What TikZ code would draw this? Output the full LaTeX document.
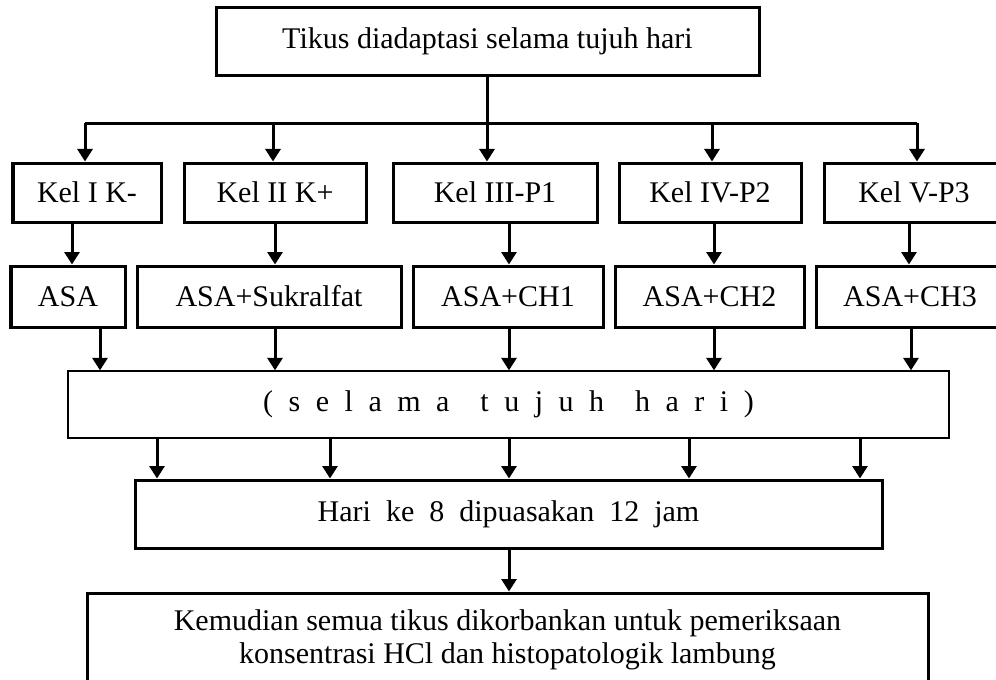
\documentclass[tikz,border=0pt]{standalone}
\usepackage{fontspec}
\setmainfont{Liberation Serif}
\usetikzlibrary{arrows.meta}
\newcommand{\lgap}{\hspace{6.2pt}}
\newcommand{\wgap}{\hspace{12.4pt}}

\begin{document}
\begin{tikzpicture}
[
  x=0.4pt, y=-0.4pt,
  every node/.style={font=\fontsize{12}{13.2}\selectfont},
  box/.style={rectangle,draw,line width=1.2pt,inner sep=0pt},
  thinbox/.style={rectangle,draw,line width=0.5pt,inner sep=0pt},
  boxsize/.style 2 args={minimum width=#1*0.4pt,minimum height=#2*0.4pt},
  link/.style={line width=1.2pt},
  arr/.style={link,-{Triangle[length=5pt,width=6pt]}},
]
\useasboundingbox (0,0) rectangle (996,680);

\node[box,boxsize={543}{68}] (top) at (487.5,41) {Tikus diadaptasi selama tujuh hari};

% kelompok
\node[box,boxsize={148}{59}] (k1) at (87,192.5) {Kel I K-};
\node[box,boxsize={182}{59}] (k2) at (275,192.5) {Kel II K+};
\node[box,boxsize={204}{59}] (k3) at (495,192.5) {Kel III-P1};
\node[box,boxsize={182}{59}] (k4) at (710,192.5) {Kel IV-P2};
\node[box,boxsize={180}{59}] (k5) at (914,192.5) {Kel V-P3};

% perlakuan
\node[box,boxsize={114}{61}] (a1) at (68,296.5) {ASA};
\node[box,boxsize={264}{61}] (a2) at (269,296.5) {ASA+Sukralfat};
\node[box,boxsize={190}{61}] (a3) at (508,296.5) {ASA+CH1};
\node[box,boxsize={189}{61}] (a4) at (709.5,296.5) {ASA+CH2};
\node[box,boxsize={188}{61}] (a5) at (910,296.5) {ASA+CH3};

\node[thinbox,boxsize={881}{67}] (s) at (508.5,404.5)
  {(\lgap s\lgap e\lgap l\lgap a\lgap m\lgap a\wgap t\lgap u\lgap j\lgap u\lgap h\wgap h\lgap a\lgap r\lgap i\lgap )};
\node[box,boxsize={747}{68}] (h) at (508.5,514) {Hari~~ke~~8~~dipuasakan~~12~~jam};
\node[box,boxsize={841}{94},align=center] (b) at (507.5,640)
  {Kemudian semua tikus dikorbankan untuk pemeriksaan\\konsentrasi HCl dan histopatologik lambung};

% cabang
\coordinate (bl) at (85,123);
\coordinate (br) at (917,123);
\draw[link] (top.south) -- (top.south |- bl);
\draw[link] (bl) -- (br);
\foreach \n/\x in {1/85,2/273,3/487,4/712,5/917}
  \draw[arr] (\x,0 |- bl) -- (k\n.north -| \x,0);

\foreach \n/\x in {1/72,2/275,3/509,4/714,5/909}
  \draw[arr] (k\n.south -| \x,0) -- (a\n.north -| \x,0);

\foreach \n/\x in {1/100,2/275,3/509,4/714,5/911}
  \draw[arr] (a\n.south -| \x,0) -- (s.north -| \x,0);

\foreach \x in {157,330,509,689,860}
  \draw[arr] (s.south -| \x,0) -- (h.north -| \x,0);

\draw[arr] (h.south -| 509,0) -- (b.north -| 509,0);
\end{tikzpicture}
\end{document}
